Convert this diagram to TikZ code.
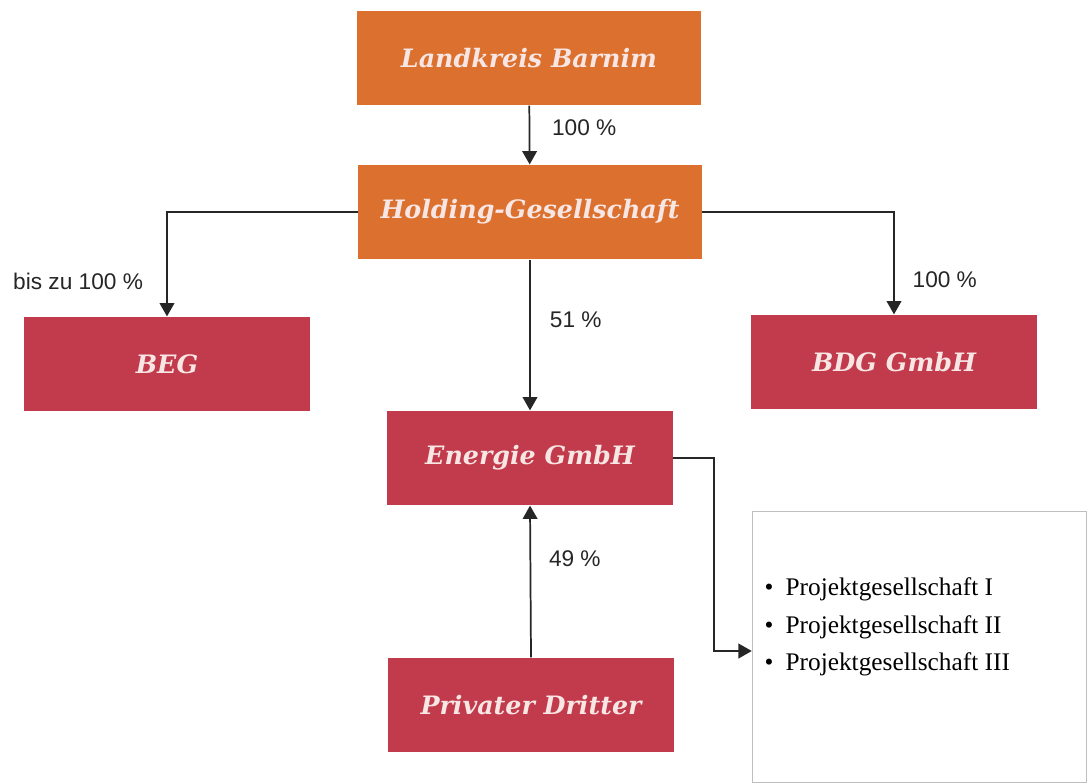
\documentclass[tikz,border=0pt]{standalone}
\usepackage{fontspec}
\setmainfont{Liberation Serif}
\newfontfamily\boxfont{DejaVu Serif}
\newfontfamily\pctfont{Liberation Sans}
\usetikzlibrary{arrows.meta}
\definecolor{orangebox}{HTML}{DC702E}
\definecolor{redbox}{HTML}{C23B4D}
\definecolor{boxtext}{HTML}{F7E6E4}
\begin{document}
\begin{tikzpicture}[x=0.75pt,y=-0.75pt,>={Triangle[length=10pt,width=11pt]},
  firm/.style={minimum height=71pt,inner sep=0pt,text=boxtext,font=\boxfont\bfseries\itshape\fontsize{19}{21}\selectfont},
  ownr/.style={firm,fill=orangebox,minimum width=258pt},
  sub/.style={firm,fill=redbox,minimum width=214pt},
  pct/.style={font=\pctfont\fontsize{17}{19}\selectfont},
  link/.style={->,line width=1.3pt,black!85}]
\useasboundingbox (0,0) rectangle (1088,782);
\node[ownr] (lk) at (529,58) {Landkreis Barnim};
\node[ownr] (hold) at (530,212) {Holding-Gesellschaft};
\node[sub] (beg) at (167,364) {BEG};
\node[sub] (bdg) at (894,362) {BDG GmbH};
\node[sub] (energie) at (530,458) {Energie GmbH};
\node[sub] (dritter) at (531,705) {Privater Dritter};
\node[draw=black!25,line width=0.6pt,minimum width=251pt,minimum height=203pt,inner sep=0pt] (pg) at (919.5,647) {};
\node[anchor=west,align=left,font=\fontsize{19}{28}\selectfont] (pgtext) at (760,627)
  {\textbullet\hspace{9pt}Projektgesellschaft I\\
   \textbullet\hspace{9pt}Projektgesellschaft II\\
   \textbullet\hspace{9pt}Projektgesellschaft III};
\draw[link] (lk)--node[pct,pos=0.38,right,xshift=13pt] {100 \%}(hold);
\draw[link] (hold.west)-|node[pct,pos=0.83,left,xshift=-14pt] {bis zu 100 \%}(beg.north);
\draw[link] (hold.east)-|node[pct,pos=0.83,right,xshift=10pt] {100 \%}(bdg.north);
\draw[link] (hold.south)--node[pct,pos=0.4,right,xshift=11pt] {51 \%}(energie.north);
\draw[link] (dritter.north)--node[pct,pos=0.65,right,xshift=10pt] {49 \%}(energie.south);
\draw[link] (energie.east)--++(41,0)|-([yshift=-3pt]pg.west);
\end{tikzpicture}
\end{document}
